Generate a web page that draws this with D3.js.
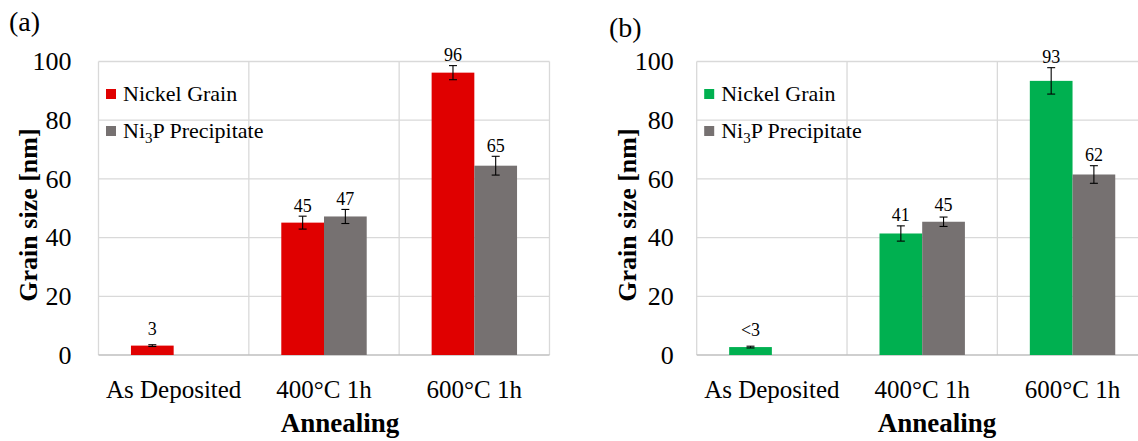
<!DOCTYPE html>
<html lang="en">
<head>
    <meta charset="UTF-8">
    <script src="https://cdnjs.cloudflare.com/ajax/libs/d3/7.8.5/d3.min.js"></script>
    <style>
        body { margin: 0; background: #fff; }
        text { font-family: "Liberation Serif", serif; fill: #000; }
    </style>
</head>
<body>
    <svg id="chart" width="1138" height="441"></svg>
    <script>
        // data
        let categories = ["As Deposited", "400°C 1h", "600°C 1h"];
        let seriesNames = ["Nickel Grain", "Ni3P Precipitate"];
        let yTicks = [0, 20, 40, 60, 80, 100];

        // panel (a)
        let nickelA = [3.2, 45.1, 96.2];
        let nickelErrA = [0.3, 2.2, 2.4];
        let nickelLabelA = ["3", "45", "96"];
        let ni3pA = [null, 47.2, 64.5];
        let ni3pErrA = [null, 2.4, 3.2];
        let ni3pLabelA = ["", "47", "65"];

        // panel (b)
        let nickelB = [2.7, 41.4, 93.4];
        let nickelErrB = [0.3, 2.6, 4.5];
        let nickelLabelB = ["<3", "41", "93"];
        let ni3pB = [null, 45.4, 61.5];
        let ni3pErrB = [null, 1.6, 3.0];
        let ni3pLabelB = ["", "45", "62"];

        let gray = "#767171";
        let svg = d3.select("#chart");

        function drawPanel(p) {
            let g = svg.append("g");
            let x = d3.scaleBand().domain(categories).range([p.left, p.left + 451]);
            let x1 = d3.scaleBand().domain(seriesNames).range([0, x.bandwidth()]).paddingOuter(0.76);
            let y = d3.scaleLinear().domain([0, 100]).range([355, 61.5]);

            // horizontal gridlines
            g.selectAll(".hgrid")
                .data(yTicks.filter(t => t > 0))
                .enter()
                .append("line")
                .attr("x1", p.left).attr("x2", p.left + 451)
                .attr("y1", d => y(d)).attr("y2", d => y(d))
                .attr("stroke", "#d9d9d9").attr("stroke-width", 1.3);

            // vertical gridlines at category edges
            let edges = categories.map(c => x(c)).concat([x.range()[1]]);
            g.selectAll(".vgrid")
                .data(edges)
                .enter()
                .append("line")
                .attr("x1", d => d).attr("x2", d => d)
                .attr("y1", y(100)).attr("y2", y(0))
                .attr("stroke", "#d9d9d9").attr("stroke-width", 1.3);

            g.append("line")
                .attr("x1", p.left).attr("x2", p.left + 451)
                .attr("y1", y(0)).attr("y2", y(0))
                .attr("stroke", "#bfbfbf").attr("stroke-width", 1.5);

            // bars
            let rows = [];
            categories.forEach((c, i) => {
                rows.push({cat: c, s: seriesNames[0], v: p.nickel[i], e: p.nickelErr[i], lab: p.nickelLabel[i], color: p.color});
                rows.push({cat: c, s: seriesNames[1], v: p.ni3p[i], e: p.ni3pErr[i], lab: p.ni3pLabel[i], color: gray});
            });
            rows = rows.filter(d => d.v != null);

            let cx = d => x(d.cat) + x1(d.s) + x1.bandwidth() / 2;

            g.selectAll(".bar")
                .data(rows)
                .enter()
                .append("rect")
                .attr("x", d => x(d.cat) + x1(d.s))
                .attr("width", x1.bandwidth())
                .attr("y", d => y(d.v))
                .attr("height", d => y(0) - y(d.v))
                .attr("fill", d => d.color);

            // error bars
            let err = g.selectAll(".err").data(rows).enter().append("g")
                .attr("stroke", "#000").attr("stroke-width", 1.1);
            err.append("line")
                .attr("x1", cx).attr("x2", cx)
                .attr("y1", d => y(d.v - d.e)).attr("y2", d => y(d.v + d.e));
            err.append("line")
                .attr("x1", d => cx(d) - 4).attr("x2", d => cx(d) + 4)
                .attr("y1", d => y(d.v + d.e)).attr("y2", d => y(d.v + d.e));
            err.append("line")
                .attr("x1", d => cx(d) - 4).attr("x2", d => cx(d) + 4)
                .attr("y1", d => y(d.v - d.e)).attr("y2", d => y(d.v - d.e));

            // data labels
            g.selectAll(".lab")
                .data(rows)
                .enter()
                .append("text")
                .attr("x", cx)
                .attr("y", d => Math.min(y(d.v) - 11, y(d.v + d.e) - 4.5))
                .attr("text-anchor", "middle")
                .style("font-size", "18px")
                .text(d => d.lab);

            // y axis
            let yAxis = d3.axisLeft(y).tickValues(yTicks).tickSize(0).tickPadding(p.tickPad);
            let yG = g.append("g").attr("transform", `translate(${p.left},0)`).call(yAxis);
            yG.select(".domain").remove();
            yG.selectAll("text")
                .style("font-family", "Liberation Serif")
                .style("font-size", "26px")
                .attr("fill", "#000");

            // x axis
            let xAxis = d3.axisBottom(x).tickSize(0);
            let xG = g.append("g").attr("transform", `translate(0,${y(0)})`).call(xAxis);
            xG.select(".domain").remove();
            xG.selectAll("text")
                .attr("y", 43).attr("dy", 0)
                .style("font-family", "Liberation Serif")
                .style("font-size", "25px")
                .attr("fill", "#000");

            // axis titles
            g.append("text")
                .attr("transform", `translate(${p.yTitleX},215) rotate(-90)`)
                .attr("text-anchor", "middle")
                .style("font-size", "26px").style("font-weight", "bold")
                .text("Grain size [nm]");
            g.append("text")
                .attr("x", p.xTitleX).attr("y", 432)
                .attr("text-anchor", "middle")
                .style("font-size", "27px").style("font-weight", "bold")
                .text("Annealing");

            // panel tag
            g.append("text")
                .attr("x", p.tagX).attr("y", p.tagY)
                .style("font-size", "28px")
                .text(p.tag);

            // legend
            let lx = p.left + 7.5;
            let leg = g.selectAll(".leg")
                .data([{name: "Nickel Grain", color: p.color}, {name: "Ni3P Precipitate", color: gray}])
                .enter()
                .append("g")
                .attr("transform", (d, i) => `translate(${lx},${89 + i * 37})`);
            leg.append("rect").attr("width", 10).attr("height", 10).attr("fill", d => d.color);
            let lt = leg.append("text").attr("x", 17).attr("y", 12).style("font-size", "22px");
            lt.each(function(d) {
                let t = d3.select(this);
                if (d.name.startsWith("Ni3P")) {
                    t.append("tspan").text("Ni");
                    t.append("tspan").attr("dy", 5).style("font-size", "15px").text("3");
                    t.append("tspan").attr("dy", -5).text("P Precipitate");
                } else {
                    t.text(d.name);
                }
            });
        }

        drawPanel({left: 98.5, tickPad: 27, color: "#e00000", tag: "(a)", tagX: 9, tagY: 31,
            yTitleX: 37, xTitleX: 340,
            nickel: nickelA, nickelErr: nickelErrA, nickelLabel: nickelLabelA,
            ni3p: ni3pA, ni3pErr: ni3pErrA, ni3pLabel: ni3pLabelA});

        drawPanel({left: 696.7, tickPad: 23, color: "#00b050", tag: "(b)", tagX: 609, tagY: 37,
            yTitleX: 636, xTitleX: 937,
            nickel: nickelB, nickelErr: nickelErrB, nickelLabel: nickelLabelB,
            ni3p: ni3pB, ni3pErr: ni3pErrB, ni3pLabel: ni3pLabelB});
    </script>
</body>
</html>
